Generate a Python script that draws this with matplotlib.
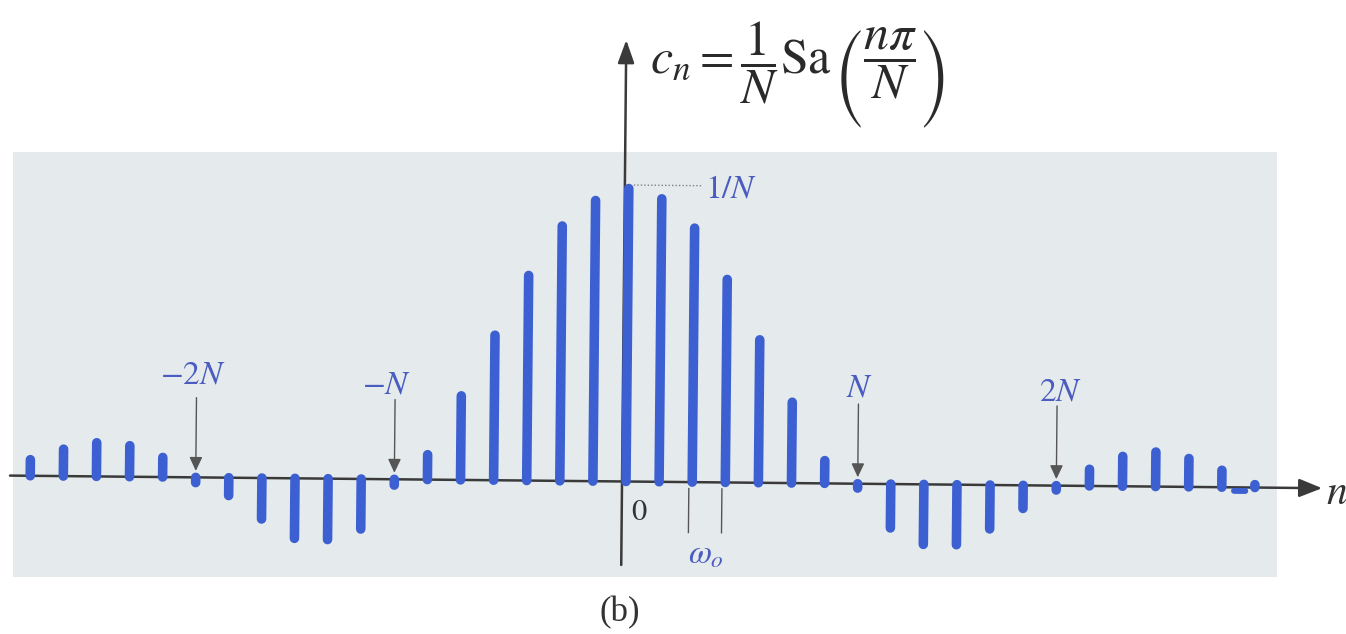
import matplotlib
matplotlib.use("Agg")
import matplotlib.pyplot as plt
from matplotlib.patches import Rectangle, FancyArrowPatch
from matplotlib.transforms import Affine2D

plt.rcParams["mathtext.fontset"] = "stix"
plt.rcParams["font.family"] = ["Liberation Serif", "DejaVu Serif"]

# Harmonic index n and the scaled coefficient N*c_n (peak 1/N -> 1.0)
n_values = list(range(-18, 20))
cn_scaled = [
    0.055, 0.092, 0.115, 0.106, 0.067,          # n = -18 .. -14
    -0.018,                                     # n = -13
    -0.061, -0.140, -0.205, -0.208, -0.171,     # n = -12 .. -8
    -0.020,                                     # n = -7
    0.085, 0.287, 0.495, 0.700, 0.870, 0.958,   # n = -6 .. -1
    1.000,                                      # n = 0
    0.966, 0.867, 0.693, 0.488, 0.276, 0.078,   # n = 1 .. 6
    -0.015,                                     # n = 7
    -0.150, -0.205, -0.205, -0.150, -0.079,     # n = 8 .. 12
    -0.015,                                     # n = 13
    0.057, 0.102, 0.118, 0.097, 0.058,          # n = 14 .. 18
    0.010,                                      # n = 19
]

# Marked zero crossings
marker_n = [-13, -7, 7, 13]
marker_labels = [r"$-2N$", r"$-N$", r"$N$", r"$2N$"]

# Harmonic spacing bracket (omega_o)
omega_n = [1.9, 2.9]

W, H = 1346, 634
x0_px, dx_px = 626.0, 33.1      # pixel of n=0 and pixels per harmonic
y0_px, unit_px = 481.5, 293.0   # pixel row of the n-axis and pixels per unit

BAR_BLUE = "#3c60d2"
LABEL_BLUE = "#4a5cc0"
AXIS_GREY = "#3a3a3a"
INK = "#2a2a2a"

fig = plt.figure(figsize=(W / 100, H / 100), dpi=100)
ax = fig.add_axes([0, 0, 1, 1])
ax.axis("off")
ax.set_xlim(-x0_px / dx_px, (W - x0_px) / dx_px)
ax.set_ylim(-(H - y0_px) / unit_px, y0_px / unit_px)
ax.set_autoscale_on(False)

# The printed figure sits slightly askew on the page
ox, oy = ax.transData.transform((0, 0))
tr = ax.transData + Affine2D().rotate_deg_around(ox, oy, -0.55)

# Shaded panel behind the spectrum
ax.add_patch(Rectangle((13 / W, 1 - 577 / H), (1277 - 13) / W, (577 - 152) / H,
                       transform=ax.transAxes, facecolor="#e5ebec",
                       edgecolor="none", zorder=0))

# n axis and c_n axis
ax.add_patch(FancyArrowPatch((-18.61, 0), (21.03, 0), transform=tr,
                             arrowstyle="-|>,head_length=0.7,head_width=0.28",
                             mutation_scale=20, lw=1.8, color=AXIS_GREY,
                             shrinkA=0, shrinkB=0, zorder=2))
ax.add_patch(FancyArrowPatch((-0.12, -0.285), (-0.12, 1.507), transform=tr,
                             arrowstyle="-|>,head_length=0.7,head_width=0.25",
                             mutation_scale=20, lw=1.8, color=AXIS_GREY,
                             shrinkA=0, shrinkB=0, zorder=2))

# Spectral lines
ax.vlines(n_values, 0, cn_scaled, colors=BAR_BLUE, linewidth=6.9,
          capstyle="round", transform=tr, zorder=3)
# small smudge near the right end of the axis
ax.plot([18.37, 18.71], [-0.012, -0.012], color=BAR_BLUE, lw=4.3,
        solid_capstyle="round", transform=tr, zorder=3)

# Zero-crossing markers
for n in marker_n:
    ax.add_patch(FancyArrowPatch((n, 0.272), (n, 0.022), transform=tr,
                                 arrowstyle="-|>,head_length=0.6,head_width=0.28",
                                 mutation_scale=14, lw=1.0, color="#555555",
                                 shrinkA=0, shrinkB=0, zorder=4))
label_pos = {-13: (-13.1, 0.35), -7: (-7.25, 0.32), 7: (7.04, 0.325), 13: (13.1, 0.32)}
for n, lab in zip(marker_n, marker_labels):
    lx, ly = label_pos[n]
    ax.text(lx, ly, lab, transform=tr, ha="center", va="center",
            fontsize=24, color=LABEL_BLUE, zorder=5)

# Peak level 1/N
ax.plot([0.15, 2.2], [1.012, 1.012], ls=(0, (1, 1.5)), color="#808080",
        lw=1.0, transform=tr, zorder=2)
ax.text(2.3, 1.0, r"$1/N$", transform=tr, ha="left", va="center",
        fontsize=24, color=LABEL_BLUE, zorder=5)

# Origin label
ax.text(0.42, -0.104, r"$0$", transform=tr, ha="center", va="center",
        fontsize=22, color="#333333", zorder=5)

# Harmonic spacing omega_o
for n in omega_n:
    ax.plot([n, n], [-0.022, -0.172], color="#555555", lw=1.0,
            transform=tr, zorder=2)
ax.text(2.45, -0.25, r"$\omega_o$", transform=tr, ha="center", va="center",
        fontsize=24, color=LABEL_BLUE, zorder=5)

# Axis name
ax.text(21.15, -0.02, r"$n$", transform=tr, ha="left", va="center",
        fontsize=30, color="#333333", zorder=5)

# Coefficient formula: c_n = (1/N) Sa(n*pi/N), with tall parentheses
fig.text(650 / W, 1 - 63 / H, r"$c_n=\dfrac{1}{N}\mathrm{Sa}$",
         ha="left", va="center", fontsize=36, color=INK)
fig.text(834 / W, 1 - 78 / H, "(", family="STIXSizeTwoSym",
         ha="left", va="center", fontsize=38, color=INK)
fig.text(863 / W, 1 - 63 / H, r"$\dfrac{n\pi}{N}$",
         ha="left", va="center", fontsize=36, color=INK)
fig.text(950 / W, 1 - 78 / H, ")", family="STIXSizeTwoSym",
         ha="right", va="center", fontsize=38, color=INK)

# Panel tag
fig.text(620 / W, 1 - 613 / H, "(b)", ha="center", va="center",
         fontsize=25, color="#333333")

fig.savefig("out.png", dpi=100)
